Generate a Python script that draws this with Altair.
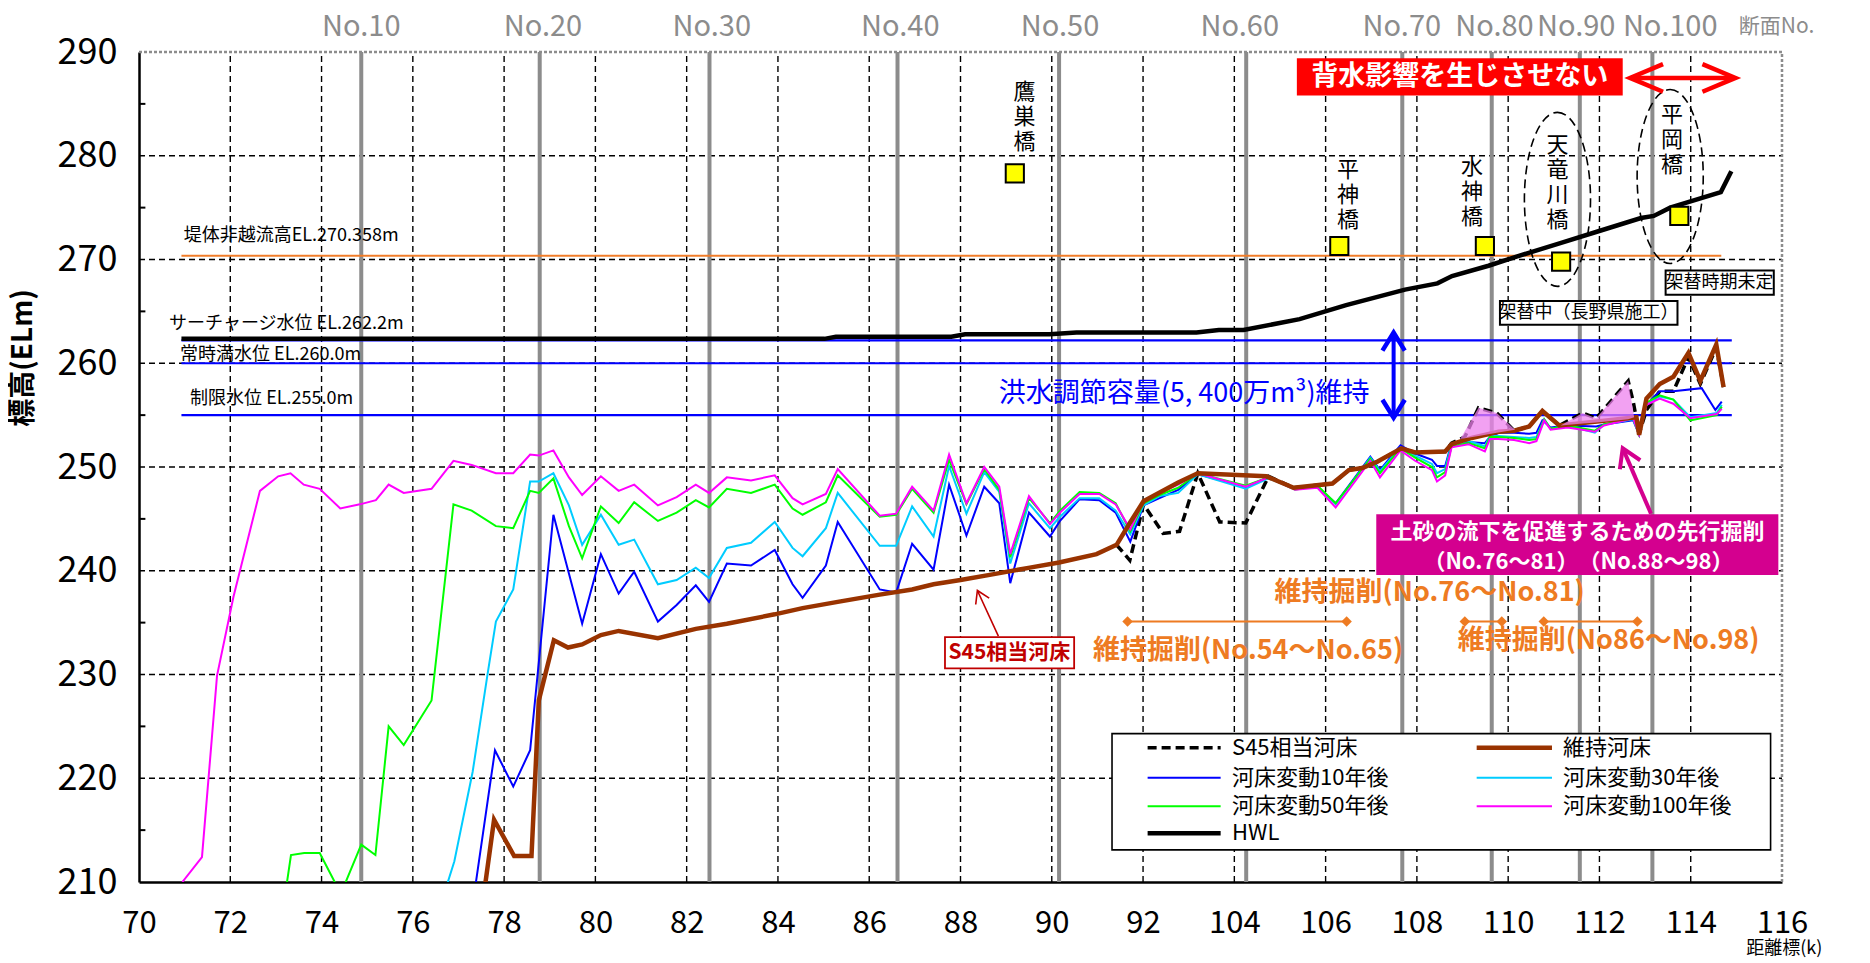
import altair as alt
import pandas as pd

JP = "Noto Sans CJK JP"
NUM = "Liberation Sans Narrow, Noto Sans CJK JP, sans-serif"

# ---------------- axis / grid ----------------
X_TICK_POS = list(range(70, 107, 2))          # plotted positions; labels after 92 read +10
Y_TICK_VALUES = list(range(210, 291, 10))
Y_MINOR_TICKS = list(range(215, 290, 10))
X_GRID = list(range(72, 105, 2))
Y_GRID = list(range(220, 290, 10))

# ---------------- section markers ----------------
SECTION_NAMES = ["No.10", "No.20", "No.30", "No.40", "No.50", "No.60", "No.70", "No.80", "No.90", "No.100"]
SECTION_POS = [74.87, 78.78, 82.50, 86.62, 90.16, 94.26, 97.68, 99.64, 101.57, 103.16]
SECTION_LABEL_POS = [74.87, 78.85, 82.55, 86.68, 90.18, 94.12, 97.67, 99.70, 101.49, 103.55]

# ---------------- water levels ----------------
LEVEL_VALUES = [270.358, 262.2, 260.0, 255.0]
LEVEL_LABELS = ["堤体非越流高EL.270.358m", "サーチャージ水位  EL.262.2m", "常時満水位  EL.260.0m", "制限水位 EL.255.0m"]

# ---------------- series ----------------
HWL = [(70.93, 262.35), (85.02, 262.35), (85.27, 262.55), (87.80, 262.55), (88.10, 262.8), (89.95, 262.8),
       (90.54, 262.97), (93.17, 262.97), (93.66, 263.2), (94.20, 263.2), (95.43, 264.25), (96.45, 265.6),
       (97.74, 267.1), (98.45, 267.7), (98.77, 268.4), (99.57, 269.4), (100.20, 270.3), (101.16, 271.6),
       (101.96, 272.7), (102.91, 274.0), (103.19, 274.2), (103.55, 275.0), (104.66, 276.5), (104.89, 278.5)]

S45 = [(91.42, 242.5), (91.71, 241.0), (92.01, 246.4), (92.44, 243.6), (92.80, 243.8), (93.20, 249.4),
       (93.68, 244.7), (94.25, 244.6), (94.75, 249.1), (95.30, 248.0), (96.15, 248.4), (96.51, 249.7),
       (96.80, 249.9), (97.13, 250.5), (97.66, 251.8), (97.96, 251.4), (98.62, 251.5), (98.76, 252.3),
       (99.05, 252.9), (99.35, 255.7), (99.75, 255.2), (100.13, 253.5), (100.46, 253.9), (100.75, 255.4),
       (101.12, 254.0), (101.63, 255.2), (101.93, 254.7), (102.63, 258.3), (102.74, 256.3), (102.87, 253.2),
       (103.03, 255.5), (103.32, 257.3), (103.62, 257.3), (103.95, 260.6), (104.21, 258.0), (104.56, 261.5),
       (104.72, 257.7)]

MAINT = [(77.55, 208.0), (77.59, 209.9), (77.78, 216.0), (78.22, 212.5), (78.60, 212.5), (78.76, 227.5),
         (79.09, 233.3), (79.40, 232.6), (79.71, 232.9), (80.12, 233.8), (80.51, 234.2), (81.37, 233.5),
         (82.20, 234.4), (82.88, 234.9), (83.93, 235.8), (84.54, 236.4), (85.31, 237.0), (86.23, 237.7),
         (86.94, 238.2), (87.41, 238.7), (88.00, 239.1), (88.64, 239.6), (89.52, 240.3), (90.16, 240.8),
         (90.98, 241.6), (91.42, 242.5), (91.71, 244.6), (92.01, 246.7), (92.77, 248.5), (93.20, 249.4),
         (94.70, 249.1), (95.30, 248.0), (96.15, 248.4), (96.51, 249.7), (96.80, 249.9), (97.13, 250.5),
         (97.66, 251.8), (97.96, 251.4), (98.62, 251.5), (98.76, 252.2), (99.20, 252.8), (99.79, 253.4),
         (100.13, 253.5), (100.46, 253.9), (100.75, 255.4), (101.12, 254.0), (102.00, 254.4), (102.81, 254.8),
         (102.87, 253.1), (103.03, 256.6), (103.32, 258.0), (103.62, 258.7), (103.95, 261.0), (104.21, 258.3),
         (104.56, 261.8), (104.72, 257.7)]

Y10 = [(77.33, 208.0), (77.38, 209.9), (77.80, 222.7), (78.20, 219.2), (78.57, 222.7), (79.08, 245.4),
       (79.71, 234.9), (80.12, 241.6), (80.51, 237.8), (80.85, 239.9), (81.37, 235.1), (81.78, 236.7),
       (82.20, 238.6), (82.49, 237.0), (82.88, 240.7), (83.41, 240.5), (83.93, 242.0), (84.32, 238.7),
       (84.54, 237.4), (85.05, 240.5), (85.31, 244.7), (86.23, 238.2), (86.59, 237.9), (86.94, 242.6),
       (87.41, 240.1), (87.75, 248.3), (88.13, 243.4), (88.52, 248.1), (88.85, 246.5), (89.09, 238.8),
       (89.50, 245.6), (89.96, 243.3), (90.18, 244.8), (90.61, 246.9), (91.04, 246.8), (91.40, 245.6),
       (91.72, 242.8), (92.01, 246.3), (92.36, 247.0), (92.77, 247.8), (93.20, 249.3), (94.25, 248.1),
       (94.75, 249.0), (95.33, 247.9), (95.82, 248.1), (96.22, 246.5), (96.98, 251.0), (97.19, 249.7),
       (97.64, 252.1), (97.96, 251.3), (98.33, 250.7), (98.44, 250.1), (98.62, 250.1), (98.76, 252.3),
       (99.13, 252.4), (99.49, 252.3), (99.60, 252.9), (99.79, 253.3), (100.13, 253.3), (100.46, 253.2),
       (100.62, 253.3), (100.75, 254.5), (100.93, 253.8), (101.30, 254.0), (101.93, 253.9), (102.10, 254.1),
       (102.74, 254.5), (102.87, 253.1), (103.03, 256.0), (103.32, 257.3), (103.62, 257.3), (104.24, 257.6),
       (104.54, 255.5), (104.68, 256.3)]

Y30 = [(76.70, 208.0), (76.76, 209.9), (76.91, 212.0), (77.31, 220.6), (77.64, 230.1), (77.82, 235.1),
       (78.20, 238.2), (78.57, 248.6), (78.76, 248.6), (79.08, 249.4), (79.42, 246.3), (79.71, 242.5),
       (80.12, 245.4), (80.51, 242.5), (80.85, 243.0), (81.37, 238.7), (81.78, 239.1), (82.20, 240.3),
       (82.49, 239.3), (82.88, 242.2), (83.41, 242.7), (83.93, 244.7), (84.32, 242.2), (84.54, 241.4),
       (85.05, 244.1), (85.31, 247.5), (86.23, 242.4), (86.59, 242.4), (86.94, 246.2), (87.41, 243.3),
       (87.75, 250.1), (88.13, 245.5), (88.52, 249.5), (88.85, 247.6), (89.09, 240.7), (89.50, 246.5),
       (89.96, 244.1), (90.18, 245.2), (90.61, 247.0), (91.04, 247.0), (91.40, 245.8), (91.72, 243.5),
       (92.01, 246.3), (92.36, 247.2), (92.77, 247.5), (93.20, 249.3), (94.25, 247.9), (94.75, 248.9),
       (95.33, 247.9), (95.82, 248.1), (96.22, 246.4), (96.98, 250.9), (97.19, 249.6), (97.64, 251.9),
       (97.96, 251.1), (98.33, 250.3), (98.44, 249.4), (98.62, 249.8), (98.76, 252.2), (99.13, 252.5),
       (99.49, 252.0), (99.60, 253.0), (99.79, 253.0), (100.13, 252.9), (100.46, 252.8), (100.62, 252.9),
       (100.79, 254.6), (100.93, 253.7), (101.30, 254.0), (101.90, 253.3), (102.10, 254.1), (102.74, 254.6),
       (102.87, 253.1), (103.03, 256.1), (103.32, 256.8), (103.62, 256.5), (103.99, 254.8), (104.57, 255.2),
       (104.68, 256.0)]

Y50 = [(73.22, 208.0), (73.24, 209.9), (73.33, 212.6), (73.62, 212.8), (73.96, 212.8), (74.30, 209.9),
       (74.40, 208.0), (74.52, 209.9), (74.87, 213.6), (75.18, 212.6), (75.47, 225.0), (75.80, 223.2),
       (76.41, 227.5), (76.89, 246.4), (77.29, 245.8), (77.82, 244.3), (78.20, 244.1), (78.57, 247.7),
       (78.76, 247.5), (79.08, 248.9), (79.42, 244.3), (79.71, 241.2), (80.12, 246.2), (80.51, 244.6),
       (80.85, 246.6), (81.37, 244.8), (81.78, 245.6), (82.20, 246.8), (82.49, 246.1), (82.88, 247.9),
       (83.41, 247.5), (83.93, 248.3), (84.32, 246.0), (84.54, 245.4), (85.05, 246.6), (85.31, 249.2),
       (86.23, 245.2), (86.59, 245.4), (86.94, 247.9), (87.41, 245.6), (87.75, 250.7), (88.13, 246.4),
       (88.52, 249.8), (88.85, 247.8), (89.09, 241.3), (89.50, 247.0), (89.96, 244.6), (90.18, 245.8),
       (90.61, 247.6), (91.04, 247.5), (91.40, 246.5), (91.72, 243.8), (92.01, 246.5), (92.36, 247.3),
       (92.77, 248.0), (93.20, 249.4), (94.25, 248.2), (94.75, 249.0), (95.33, 247.8), (95.82, 248.2),
       (96.22, 246.5), (96.98, 250.8), (97.19, 249.4), (97.64, 251.8), (97.96, 250.9), (98.33, 250.0),
       (98.44, 249.0), (98.62, 249.5), (98.76, 252.0), (99.13, 252.3), (99.49, 251.8), (99.60, 252.9),
       (99.79, 252.9), (100.13, 252.8), (100.46, 252.6), (100.62, 252.7), (100.79, 254.6), (100.93, 253.7),
       (101.30, 254.0), (101.90, 253.5), (102.10, 254.1), (102.74, 254.7), (102.87, 253.1), (103.03, 256.2),
       (103.32, 256.9), (103.62, 256.5), (103.99, 254.5), (104.57, 255.0), (104.68, 255.8)]

Y100 = [(70.95, 210.0), (71.38, 212.4), (71.71, 229.9), (72.07, 237.5), (72.65, 247.7), (73.05, 249.1),
        (73.32, 249.4), (73.61, 248.3), (73.96, 247.9), (74.41, 246.0), (74.84, 246.4), (75.19, 246.8),
        (75.47, 248.3), (75.80, 247.5), (76.41, 247.9), (76.89, 250.6), (77.29, 250.2), (77.82, 249.4),
        (78.20, 249.4), (78.57, 251.2), (78.76, 251.1), (79.08, 251.6), (79.42, 249.0), (79.71, 247.3),
        (80.12, 249.1), (80.51, 247.7), (80.85, 248.3), (81.37, 246.3), (81.78, 247.1), (82.20, 248.3),
        (82.49, 247.5), (82.88, 249.0), (83.41, 248.7), (83.93, 249.2), (84.32, 247.0), (84.54, 246.4),
        (85.05, 247.4), (85.31, 249.8), (86.23, 245.3), (86.59, 245.5), (86.94, 248.1), (87.41, 245.8),
        (87.75, 251.2), (88.13, 246.5), (88.52, 250.0), (88.85, 248.1), (89.09, 241.6), (89.50, 247.2),
        (89.96, 244.5), (90.18, 245.6), (90.61, 247.4), (91.04, 247.4), (91.40, 246.4), (91.72, 244.0),
        (92.01, 246.7), (92.36, 247.5), (92.77, 248.3), (93.20, 249.4), (94.25, 248.1), (94.75, 249.0),
        (95.33, 247.8), (95.82, 248.0), (96.22, 246.1), (96.98, 250.6), (97.19, 249.0), (97.64, 251.6),
        (97.96, 250.6), (98.33, 249.7), (98.44, 248.6), (98.62, 249.2), (98.76, 251.9), (99.13, 252.2),
        (99.49, 251.5), (99.60, 252.7), (99.79, 252.7), (100.13, 252.6), (100.46, 252.3), (100.62, 252.5),
        (100.79, 254.5), (100.93, 253.6), (101.30, 253.8), (101.90, 253.4), (102.10, 254.0), (102.74, 254.7),
        (102.87, 253.1), (103.03, 256.0), (103.32, 256.6), (103.62, 256.1), (103.99, 254.7), (104.57, 255.1),
        (104.68, 255.6)]

# pink advance-excavation zones (top = S45 bed, bottom = maintained bed)
PINK1_X = [98.95, 99.35, 99.75, 100.15]
PINK1_TOP = [252.7, 255.7, 255.2, 253.6]
PINK1_BOTTOM = [252.7, 253.0, 253.3, 253.6]
PINK2_X = [101.15, 101.63, 101.93, 102.63, 102.76]
PINK2_TOP = [254.0, 255.2, 254.7, 258.3, 254.8]
PINK2_BOTTOM = [254.0, 254.2, 254.3, 254.6, 254.8]

# bridges
BRIDGE_NAMES = ["鷹巣橋", "平神橋", "水神橋", "天竜川橋", "平岡橋"]
BRIDGE_X = [89.19, 96.30, 99.49, 101.16, 103.75]
BRIDGE_Y = [278.3, 271.3, 271.3, 269.8, 274.2]

# maintenance excavation ranges
EXC_START = [91.66, 99.05, 100.78]
EXC_END = [96.46, 99.86, 102.83]
EXC_LEVEL = 235.1
EXC_LABELS = ["維持掘削(No.54～No.65)", "維持掘削(No.76～No.81)", "維持掘削(No86～No.98)"]

LEGEND_NAMES = ["S45相当河床", "維持河床", "河床変動10年後", "河床変動30年後", "河床変動50年後", "河床変動100年後", "HWL"]

# ---------------- styles ----------------
STYLE = {
    "S45相当河床": dict(color="black", strokeWidth=3.5, strokeDash=[9, 5]),
    "維持河床": dict(color="#993300", strokeWidth=4.5),
    "河床変動10年後": dict(color="#0000FF", strokeWidth=2),
    "河床変動30年後": dict(color="#00CCFF", strokeWidth=2),
    "河床変動50年後": dict(color="#00FF00", strokeWidth=2),
    "河床変動100年後": dict(color="#FF00FF", strokeWidth=2),
    "HWL": dict(color="black", strokeWidth=4.5),
}
ORANGE = "#EE7B22"
MAGENTA_BOX = "#D4008F"
DARKRED = "#C00000"
GRAY = "#8C8C8C"

CHEVRON_UP = "M-0.62,1 L0,0 L0.62,1"
CHEVRON_DOWN = "M-0.62,-1 L0,0 L0.62,-1"
CHEVRON_LEFT = "M1,-0.42 L0,0 L1,0.42"
CHEVRON_RIGHT = "M-1,-0.42 L0,0 L-1,0.42"
ELLIPSE = ("M0,-1 C0.21,-1 0.38,-0.55 0.38,0 C0.38,0.55 0.21,1 0,1 "
           "C-0.21,1 -0.38,0.55 -0.38,0 C-0.38,-0.55 -0.21,-1 0,-1 Z")

# ---------------- encodings ----------------
XS = alt.Scale(domain=[70, 106], nice=False, zero=False)
YS = alt.Scale(domain=[210, 290], nice=False, zero=False)
XAX = alt.Axis(values=X_TICK_POS, labelExpr="datum.value > 92 ? datum.value + 10 : datum.value",
               title=None, grid=False, ticks=False, labelFont=NUM, labelFontSize=31, labelPadding=26,
               labelFlush=False, labelOverlap=False, labelColor="black", domainColor="black", domainWidth=2.5)
YAX = alt.Axis(values=Y_TICK_VALUES, title=None, grid=False, ticks=False, labelFont=NUM, labelFontSize=36,
               labelPadding=22, labelOverlap=False, labelColor="black", domainColor="black", domainWidth=2.5)
EX = alt.X("x:Q", scale=XS, axis=XAX)
EY = alt.Y("y:Q", scale=YS, axis=YAX)


def D(**cols):
    return pd.DataFrame(cols)


def line_layer(points, style):
    d = pd.DataFrame(points, columns=["x", "y"])
    d["i"] = range(len(d))
    return alt.Chart(d).mark_line(clip=True, **style).encode(x=EX, y=EY, order="i:Q")


def text_layer(d, **kw):
    return alt.Chart(d).mark_text(**kw).encode(x=EX, y=EY, text="t:N")


def hrule(d, **kw):
    return alt.Chart(d).mark_rule(**kw).encode(x=EX, x2="x2:Q", y=EY)


def seg(d, **kw):
    return alt.Chart(d).mark_rule(**kw).encode(x=EX, x2="x2:Q", y=EY, y2="y2:Q")


def rect(d, **kw):
    return alt.Chart(d).mark_rect(**kw).encode(x=EX, x2="x2:Q", y=EY, y2="y2:Q")


def glyph(d, shape, size, color, width, angle=0, dash=None):
    kw = dict(shape=shape, size=size, filled=False, stroke=color, strokeWidth=width, opacity=1, angle=angle)
    if dash:
        kw["strokeDash"] = dash
    return alt.Chart(d).mark_point(**kw).encode(x=EX, y=EY)


layers = []
# grid
layers.append(alt.Chart(D(x=X_GRID, y=[210] * len(X_GRID), y2=[290] * len(X_GRID)))
              .mark_rule(color="black", strokeWidth=1.4, strokeDash=[6, 4]).encode(x=EX, y=EY, y2="y2:Q"))
layers.append(hrule(D(x=[70] * len(Y_GRID), x2=[106] * len(Y_GRID), y=Y_GRID),
                    color="black", strokeWidth=1.4, strokeDash=[6, 4]))
layers.append(hrule(D(x=[70] * len(Y_MINOR_TICKS), x2=[70.14] * len(Y_MINOR_TICKS), y=Y_MINOR_TICKS),
                    color="black", strokeWidth=2))
# top / right frame
layers.append(hrule(D(x=[70], x2=[106], y=[290]), color=GRAY, strokeWidth=2.5, strokeDash=[3, 2]))
layers.append(seg(D(x=[106], x2=[106], y=[210], y2=[290]), color=GRAY, strokeWidth=2.5, strokeDash=[3, 2]))
# section lines and labels
layers.append(alt.Chart(D(x=SECTION_POS, y=[210] * 10, y2=[290] * 10))
              .mark_rule(color=GRAY, strokeWidth=4).encode(x=EX, y=EY, y2="y2:Q"))
layers.append(text_layer(D(x=SECTION_LABEL_POS, y=[292.4] * 10, t=SECTION_NAMES),
                         font=NUM, fontSize=29, color=GRAY, baseline="middle"))
layers.append(text_layer(D(x=[105.88], y=[292.4], t=["断面No."]), font=JP, fontSize=21, color=GRAY,
                         baseline="middle"))
# water levels
layers.append(hrule(D(x=[70.93], x2=[104.67], y=[LEVEL_VALUES[0]]), color="#F07C28", strokeWidth=2))
layers.append(hrule(D(x=[70.93] * 3, x2=[104.9] * 3, y=LEVEL_VALUES[1:]), color="#0000FF", strokeWidth=2.2))
layers.append(text_layer(D(x=[70.98, 70.66, 70.90, 71.12], y=[272.3, 263.8, 260.8, 256.6], t=LEVEL_LABELS),
                         font=JP, fontSize=18, color="black", align="left", baseline="middle"))
# series
layers.append(line_layer(S45, STYLE["S45相当河床"]))
layers.append(line_layer(Y10, STYLE["河床変動10年後"]))
layers.append(line_layer(Y30, STYLE["河床変動30年後"]))
layers.append(line_layer(Y50, STYLE["河床変動50年後"]))
layers.append(line_layer(Y100, STYLE["河床変動100年後"]))
layers.append(line_layer(MAINT, STYLE["維持河床"]))
layers.append(line_layer(HWL, STYLE["HWL"]))
# pink zones
for px, pt, pb in [(PINK1_X, PINK1_TOP, PINK1_BOTTOM), (PINK2_X, PINK2_TOP, PINK2_BOTTOM)]:
    layers.append(alt.Chart(D(x=px, y=pt, y2=pb)).mark_area(color="#EE82EE", opacity=0.75)
                  .encode(x=EX, y=EY, y2="y2:Q"))
# bridges
layers.append(alt.Chart(D(x=BRIDGE_X, y=BRIDGE_Y)).mark_square(
    size=330, filled=True, fill="#FFFF00", stroke="black", strokeWidth=2, opacity=1).encode(x=EX, y=EY))
layers.append(text_layer(D(x=[89.40, 96.49, 99.21, 101.08, 103.59], y=[287.1, 279.6, 279.9, 282.0, 284.9],
                           t=["\n".join(n) for n in BRIDGE_NAMES]),
                         font=JP, fontSize=22, lineHeight=25, lineBreak="\n", color="black",
                         align="center", baseline="top"))
layers.append(glyph(D(x=[101.08, 103.55], y=[275.8, 278.0]), ELLIPSE, 30276, "black", 1.6, dash=[9, 5]))
# red banner and arrow
layers.append(rect(D(x=[95.37], x2=[102.51], y=[285.8], y2=[289.4]), color="#FF0000"))
layers.append(text_layer(D(x=[98.94], y=[287.6], t=["背水影響を生じさせない"]), font=JP, fontSize=27,
                         fontWeight="bold", color="white", baseline="middle"))
layers.append(hrule(D(x=[102.75], x2=[104.9], y=[287.5]), color="#FF0000", strokeWidth=4.5))
layers.append(glyph(D(x=[102.67], y=[287.5]), CHEVRON_LEFT, 4356, "#FF0000", 4.5))
layers.append(glyph(D(x=[104.98], y=[287.5]), CHEVRON_RIGHT, 4356, "#FF0000", 4.5))
# replacement notes
layers.append(rect(D(x=[103.45], x2=[105.82], y=[266.6], y2=[268.95]), fill="white", stroke="black",
                   strokeWidth=2))
layers.append(text_layer(D(x=[104.63], y=[267.75], t=["架替時期未定"]), font=JP, fontSize=18, color="black",
                         baseline="middle"))
layers.append(rect(D(x=[99.82], x2=[103.71], y=[263.7], y2=[266.0]), fill="white", stroke="black",
                   strokeWidth=2))
layers.append(text_layer(D(x=[101.76], y=[264.85], t=["架替中（長野県施工）"]), font=JP, fontSize=18,
                         color="black", baseline="middle"))
# flood capacity
layers.append(text_layer(D(x=[92.9], y=[257.06], t=["洪水調節容量(5, 400万m³)維持"]), font=JP, fontSize=27,
                         color="#0000FF", baseline="middle"))
layers.append(seg(D(x=[97.49], x2=[97.49], y=[254.9], y2=[262.8]), color="#0000FF", strokeWidth=4))
layers.append(glyph(D(x=[97.49], y=[262.95]), CHEVRON_UP, 1296, "#0000FF", 4.5))
layers.append(glyph(D(x=[97.49], y=[254.75]), CHEVRON_DOWN, 1296, "#0000FF", 4.5))
# S45 label
layers.append(rect(D(x=[87.66], x2=[90.49], y=[230.6], y2=[233.6]), fill="white", stroke=DARKRED,
                   strokeWidth=1.8))
layers.append(text_layer(D(x=[89.07], y=[232.1], t=["S45相当河床"]), font=JP, fontSize=21, fontWeight="bold",
                         color=DARKRED, baseline="middle"))
layers.append(seg(D(x=[88.83], x2=[88.38], y=[233.7], y2=[238.0]), color=DARKRED, strokeWidth=1.6))
layers.append(glyph(D(x=[88.37], y=[238.1]), CHEVRON_UP, 576, DARKRED, 1.6, angle=335))
# maintenance excavation
layers.append(hrule(D(x=EXC_START, x2=EXC_END, y=[EXC_LEVEL] * 3), color=ORANGE, strokeWidth=2))
layers.append(alt.Chart(D(x=EXC_START + EXC_END, y=[EXC_LEVEL] * 6)).mark_point(
    shape="diamond", filled=True, fill=ORANGE, size=110, opacity=1, strokeWidth=0).encode(x=EX, y=EY))
layers.append(text_layer(D(x=[94.3, 98.28, 102.2], y=[232.3, 237.9, 233.2], t=EXC_LABELS), font=JP,
                         fontSize=27, fontWeight="bold", color=ORANGE, baseline="middle"))
# advance excavation box
layers.append(seg(D(x=[103.13], x2=[102.53], y=[245.5], y2=[251.6]), color=MAGENTA_BOX, strokeWidth=4))
layers.append(glyph(D(x=[102.51], y=[251.8]), CHEVRON_UP, 1296, MAGENTA_BOX, 4, angle=336))
layers.append(rect(D(x=[97.11], x2=[105.92], y=[239.6], y2=[245.45]), color=MAGENTA_BOX))
layers.append(text_layer(D(x=[101.52, 101.54], y=[243.75, 240.85],
                           t=["土砂の流下を促進するための先行掘削", "（No.76～81）　（No.88～98）"]),
                         font=JP, fontSize=22, fontWeight="bold", color="white", baseline="middle"))
# legend
layers.append(rect(D(x=[91.32], x2=[105.75], y=[213.1], y2=[224.3]), fill="white", stroke="black",
                   strokeWidth=1.6))
LINE_X0 = [92.1, 99.31]
LINE_X1 = [93.7, 100.96]
TEXT_X = [93.95, 101.2]
ROW_Y = [222.95, 220.05, 217.3, 214.7]
for i, name in enumerate(LEGEND_NAMES):
    c, r = i % 2, i // 2
    layers.append(hrule(D(x=[LINE_X0[c]], x2=[LINE_X1[c]], y=[ROW_Y[r]]), **STYLE[name]))
layers.append(text_layer(D(x=[TEXT_X[i % 2] for i in range(7)], y=[ROW_Y[i // 2] for i in range(7)],
                           t=LEGEND_NAMES), font=JP, fontSize=22, color="black", align="left",
                         baseline="middle"))
# axis titles
layers.append(text_layer(D(x=[67.48], y=[260.5], t=["標高(ELm)"]), font=JP, fontSize=28, fontWeight="bold",
                         color="black", angle=270, baseline="middle"))
layers.append(text_layer(D(x=[106.05], y=[203.5], t=["距離標(k)"]), font=JP, fontSize=18, color="black",
                         baseline="middle"))

chart = alt.layer(*layers).properties(
    width=1643, height=830,
    padding={"left": 131, "top": 44, "right": 40, "bottom": 80},
    autosize=alt.AutoSizeParams(type="none"),
).configure_view(stroke=None)

chart.save("out.html", embed_options={"renderer": "svg", "actions": False})
